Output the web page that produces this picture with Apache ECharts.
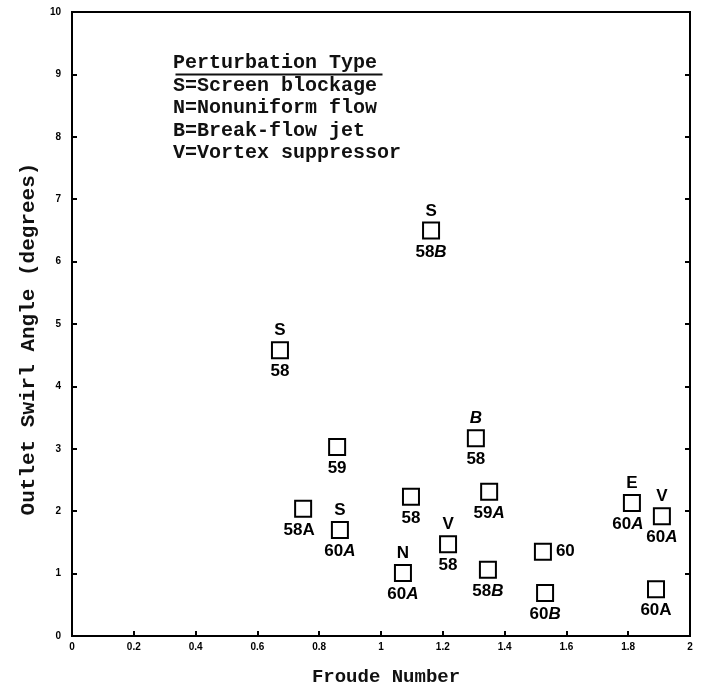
<!DOCTYPE html>
<html><head><meta charset="utf-8">
<script src="https://cdn.jsdelivr.net/npm/echarts@6/dist/echarts.min.js"></script>
<style>html,body{margin:0;padding:0;background:#fff}#c{width:702px;height:690px}</style>
</head><body><div id="c"></div>
<script>
// Data
const froude = [0.673, 1.162, 0.858, 0.748, 0.867, 1.097, 1.071, 1.217, 1.307, 1.350, 1.346, 1.524, 1.531, 1.812, 1.909, 1.890];
const swirl  = [4.58, 6.50, 3.03, 2.04, 1.70, 2.23, 1.01, 1.47, 3.17, 2.31, 1.06, 1.35, 0.69, 2.13, 1.92, 0.75];
const typeLabels = ['S', 'S', '', '', 'S', '', 'N', 'V', '{i|B}', '', '', '', '', 'E', 'V', ''];
const runLabels  = ['58', '58{i|B}', '59', '58A', '60{i|A}', '58', '60{i|A}', '58', '58', '59{i|A}', '58{i|B}', '60', '60{i|B}', '60{i|A}', '60{i|A}', '60A'];
const runLabelPlacement = ['bottom','bottom','bottom','bottomLeft','bottom','bottom','bottom','bottom','bottom','bottom','bottom','right','bottom','bottomLeft','bottom','bottom'];
const xTickLabels = ['0','0.2','0.4','0.6','0.8','1','1.2','1.4','1.6','1.8','2'];
const legendLines = ['Perturbation Type','S=Screen blockage','N=Nonuniform flow','B=Break-flow jet','V=Vortex suppressor'];

const chart = echarts.init(document.getElementById('c'), null, {renderer:'canvas'});
const mono = '"Liberation Mono","DejaVu Sans Mono",monospace';
const labFont = {fontFamily:'"Liberation Sans",Arial,sans-serif', fontWeight:'bold', fontSize:17, color:'#000'};
const rich = {i:Object.assign({}, labFont, {fontStyle:'italic'})};

const boxData = froude.map((x,i)=>{
  const pl = runLabelPlacement[i];
  let lab = {position:'bottom', distance:4};
  if (pl==='right') lab = {position:'right', distance:4};
  if (pl==='bottomLeft') lab = {position:'bottom', distance:4, offset:[-4,0]};
  return {value:[x, swirl[i]], label:lab};
});
const topData = froude.map((x,i)=>({value:[x, swirl[i]]}));

const tickFont = {fontFamily:'"Liberation Sans",Arial,sans-serif', fontWeight:'bold', fontSize:10, color:'#000'};
const tickStyle = {show:true, inside:true, length:5, lineStyle:{color:'#000', width:2}};

chart.setOption({
  animation:false,
  backgroundColor:'#fff',
  grid:{left:72, right:12, top:12, bottom:54, containLabel:false, outerBoundsMode:'none',
        show:true, borderColor:'#000', borderWidth:2, backgroundColor:'transparent'},
  xAxis:{type:'value', min:0, max:2, interval:0.2,
    name:'Froude Number', nameLocation:'middle', nameGap:32,
    nameTextStyle:{fontFamily:mono, fontSize:19, fontWeight:'bold', color:'#111', padding:[0,0,0,10]},
    axisLine:{show:true, onZero:false, lineStyle:{color:'#000', width:2}},
    axisTick:tickStyle,
    axisLabel:Object.assign({margin:6, formatter:(v,i)=>xTickLabels[i]}, tickFont),
    splitLine:{show:false}},
  yAxis:[{type:'value', min:0, max:10, interval:1,
    name:'Outlet Swirl Angle (degrees)', nameLocation:'middle', nameGap:31,
    nameTextStyle:{fontFamily:mono, fontSize:21, fontWeight:'bold', color:'#111', padding:[0,30,0,0]},
    axisLine:{show:true, onZero:false, lineStyle:{color:'#000', width:2}},
    axisTick:tickStyle,
    axisLabel:Object.assign({margin:11}, tickFont),
    splitLine:{show:false}},
   {type:'value', min:0, max:10, interval:1, position:'right',
    axisLine:{show:true, onZero:false, lineStyle:{color:'#000', width:2}},
    axisTick:tickStyle,
    axisLabel:{show:false}, splitLine:{show:false}}],
  graphic:[
    ...legendLines.map((t,i)=>({type:'text', left:173, top:53 + i*22.6,
      style:{text:t, font:'bold 20px "Liberation Mono","DejaVu Sans Mono",monospace', fill:'#111'}})),
    {type:'line', left:173, top:72, shape:{x1:0,y1:0,x2:207,y2:0}, style:{stroke:'#111', lineWidth:2}}
  ],
  series:[
    {type:'scatter', yAxisIndex:0, symbol:'rect', symbolSize:16, data:boxData,
     itemStyle:{color:'#fff', borderColor:'#000', borderWidth:2, opacity:1},
     label:Object.assign({show:true, formatter:(p)=>runLabels[p.dataIndex], rich:rich}, labFont),
     z:3},
    {type:'scatter', yAxisIndex:0, symbol:'rect', symbolSize:16, data:topData,
     itemStyle:{color:'rgba(0,0,0,0)', borderWidth:0, opacity:1},
     label:Object.assign({show:true, position:'top', distance:3, formatter:(p)=>typeLabels[p.dataIndex], rich:rich}, labFont),
     z:4},
    {type:'scatter', yAxisIndex:1, data:[], silent:true}
  ]
});
</script></body></html>
